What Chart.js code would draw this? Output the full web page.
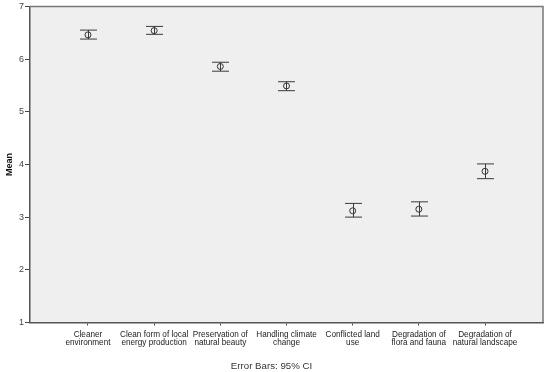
<!DOCTYPE html>
<html>
<head>
<meta charset="utf-8">
<script src="https://cdn.jsdelivr.net/npm/chart.js@4"></script>
<style>
  html, body { margin: 0; padding: 0; background: #fff; }
  #wrap { width: 550px; height: 372px; }
</style>
</head>
<body>
<div id="wrap"><canvas id="myChart"></canvas></div>
<script>
var categories = [
  ["Cleaner", "environment"],
  ["Clean form of local", "energy production"],
  ["Preservation of", "natural beauty"],
  ["Handling climate", "change"],
  ["Conflicted land", "use"],
  ["Degradation of", "flora and fauna"],
  ["Degradation of", "natural landscape"]
];
var means = [6.46, 6.54, 5.86, 5.49, 3.12, 3.15, 3.87];
var ciLow = [6.38, 6.47, 5.77, 5.40, 3.00, 3.02, 3.73];
var ciHigh = [6.55, 6.62, 5.94, 5.57, 3.26, 3.29, 4.01];
var yTicks = [1, 2, 3, 4, 5, 6, 7];

var points = means.map(function(m, i) { return {x: i, y: m}; });

// grey plot background + frame on top/right
var framePlugin = {
  id: "frame",
  beforeDraw: function(chart) {
    var a = chart.chartArea, ctx = chart.ctx;
    ctx.save();
    ctx.fillStyle = "#efefef";
    ctx.fillRect(a.left, a.top, a.right - a.left, a.bottom - a.top);
    ctx.restore();
  },
  afterDraw: function(chart) {
    var a = chart.chartArea, ctx = chart.ctx;
    ctx.save();
    ctx.strokeStyle = "#777";
    ctx.lineWidth = 1.5;
    ctx.beginPath();
    ctx.moveTo(a.left, a.top);
    ctx.lineTo(a.right, a.top);
    ctx.lineTo(a.right, a.bottom);
    ctx.stroke();
    ctx.restore();
  }
};

// 95% CI whiskers
var errorBars = {
  id: "errorBars",
  afterDatasetsDraw: function(chart) {
    var xs = chart.scales.x, ys = chart.scales.y, ctx = chart.ctx;
    ctx.save();
    ctx.strokeStyle = "#3a3a3a";
    ctx.lineWidth = 1;
    for (var i = 0; i < means.length; i++) {
      var px = Math.round(xs.getPixelForValue(i)) + 0.5;
      var lo = ys.getPixelForValue(ciLow[i]);
      var hi = ys.getPixelForValue(ciHigh[i]);
      ctx.beginPath();
      ctx.moveTo(px, lo); ctx.lineTo(px, hi);
      ctx.moveTo(px - 8.5, hi); ctx.lineTo(px + 8.5, hi);
      ctx.moveTo(px - 8.5, lo); ctx.lineTo(px + 8.5, lo);
      ctx.stroke();
    }
    ctx.restore();
  }
};

new Chart(document.getElementById("myChart").getContext("2d"), {
  type: "scatter",
  data: {
    datasets: [{
      data: points,
      pointRadius: 3,
      pointHoverRadius: 3,
      pointBorderWidth: 1,
      pointBorderColor: "#333",
      pointBackgroundColor: "rgba(0,0,0,0)"
    }]
  },
  options: {
    responsive: true,
    maintainAspectRatio: false,
    animation: false,
    layout: { padding: { top: 6, right: 7, left: 0, bottom: 0 } },
    plugins: {
      legend: { display: false },
      tooltip: { enabled: false },
      title: {
        display: true,
        position: "bottom",
        text: "Error Bars: 95% CI",
        color: "#333",
        font: { family: "Liberation Sans, Arial", size: 9.7, weight: "normal", lineHeight: 1.24 },
        padding: { top: 0, bottom: 0 }
      }
    },
    scales: {
      x: {
        type: "linear",
        min: -0.876,
        max: 6.876,
        afterBuildTicks: function(scale) {
          scale.ticks = categories.map(function(c, i) { return {value: i}; });
        },
        afterFit: function(scale) { scale.height = 37.5; },
        grid: { drawOnChartArea: false, drawTicks: true, tickLength: 3, tickColor: "#444" },
        border: { display: true, color: "#555", width: 1.5 },
        ticks: {
          autoSkip: false,
          maxRotation: 0,
          padding: 5,
          color: "#222",
          font: { family: "Liberation Sans, Arial", size: 8.2, lineHeight: 1.0 },
          callback: function(v) { return categories[v]; }
        }
      },
      y: {
        min: 1,
        max: 7,
        afterBuildTicks: function(scale) {
          scale.ticks = yTicks.map(function(v) { return {value: v}; });
        },
        afterFit: function(scale) { scale.width = 30; },
        grid: { drawOnChartArea: false, drawTicks: true, tickLength: 5, tickColor: "#444" },
        border: { display: true, color: "#555", width: 1.5 },
        ticks: {
          padding: 1,
          color: "#444",
          font: { family: "Liberation Sans, Arial", size: 9 }
        },
        title: {
          display: true,
          text: "Mean",
          color: "#111",
          font: { family: "Liberation Sans, Arial", size: 9, weight: "bold" }
        }
      }
    }
  },
  plugins: [framePlugin, errorBars]
});
</script>
</body>
</html>
